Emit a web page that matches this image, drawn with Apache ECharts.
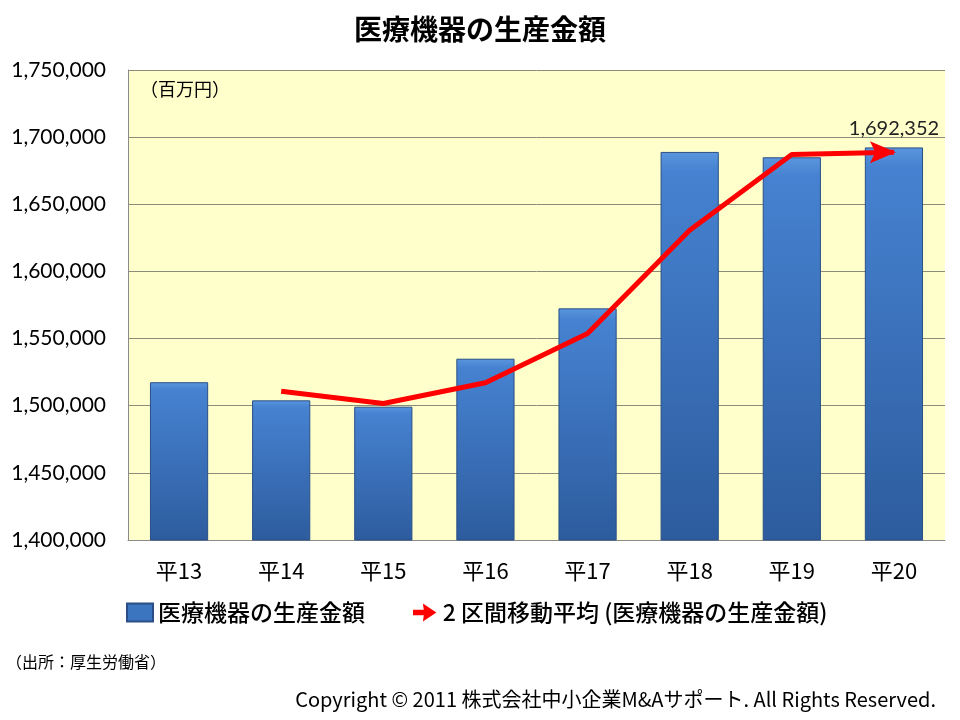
<!DOCTYPE html>
<html><head><meta charset="utf-8">
<script src="https://cdn.jsdelivr.net/npm/echarts@6/dist/echarts.min.js"></script>
<style>html,body{margin:0;padding:0;background:#fff}#c{width:960px;height:720px}</style>
</head><body><div id="c"></div>
<script>
const categories = ['平13','平14','平15','平16','平17','平18','平19','平20'];
const production = [1517500, 1504000, 1499300, 1535000, 1572500, 1689000, 1685000, 1692352];
const movingAvg = [null, 1510700, 1501600, 1517100, 1553700, 1630700, 1687000, 1688700];
const yTicks = {min: 1400000, max: 1750000, interval: 50000};
const seriesNames = ['医療機器の生産金額', '2 区間移動平均 (医療機器の生産金額)'];

const jp = '"Noto Sans CJK JP", sans-serif';
const num = 'Lato, "Noto Sans", sans-serif';
const fmt = v => v.toLocaleString('en-US');

const chart = echarts.init(document.getElementById('c'), null, {renderer: 'canvas'});
const arrowHead = 'path://M0,0 L24,11 L0,22 L5,11 Z';
const lineData = movingAvg.map((v, i) => i === movingAvg.length - 1
  ? {value: v, symbol: arrowHead, symbolSize: [26, 22], symbolOffset: [-11, 0]}
  : v);

chart.setOption({
  backgroundColor: '#fff',
  animation: false,
  title: {
    text: '医療機器の生産金額', left: 'center', top: 10,
    textStyle: {fontFamily: jp, fontSize: 28, fontWeight: 'bold', color: '#000'}
  },
  legend: {
    left: 121, top: 596, itemGap: 48, itemWidth: 26, itemHeight: 18,
    textStyle: {fontFamily: jp, fontSize: 23, color: '#000', fontWeight: 500},
    data: [
      {name: seriesNames[0], icon: 'rect', itemStyle: {color: '#3b74bf'}},
      {name: seriesNames[1], icon: 'path://M0,8 L12,8 L11,1 L26,11 L11,21 L12,14 L0,14 Z', itemStyle: {color: '#ff0000'}}
    ]
  },
  grid: {left: 128, right: 15, top: 70, bottom: 180, show: true, backgroundColor: '#ffffcc', borderWidth: 0},
  xAxis: {
    type: 'category', data: categories,
    axisLine: {lineStyle: {color: '#8a8a8a'}},
    axisTick: {show: false},
    axisLabel: {fontFamily: jp, fontSize: 22, color: '#000', margin: 20}
  },
  yAxis: {
    type: 'value', min: yTicks.min, max: yTicks.max, interval: yTicks.interval,
    axisLine: {show: true, lineStyle: {color: '#8a8a8a'}},
    axisTick: {show: false},
    splitLine: {lineStyle: {color: '#8c8c7a', width: 1}},
    axisLabel: {fontFamily: num, fontSize: 21, color: '#000', margin: 22, formatter: fmt}
  },
  series: [
    {
      name: seriesNames[0], type: 'bar', data: production, barWidth: '57%',
      itemStyle: {
        color: new echarts.graphic.LinearGradient(0, 0, 0, 1, [
          {offset: 0, color: '#5b95de'}, {offset: 0.05, color: '#4682d1'},
          {offset: 1, color: '#2d5c9e'}
        ]),
        borderColor: '#2a4f86', borderWidth: 1
      },
      label: {
        show: true, position: 'top', distance: 9,
        formatter: p => p.dataIndex === production.length - 1 ? fmt(p.value) : '',
        fontFamily: num, fontSize: 20, color: '#222'
      }
    },
    {
      name: seriesNames[1], type: 'line', data: lineData,
      symbol: 'none', showSymbol: true, connectNulls: false,
      lineStyle: {color: '#ff0000', width: 5},
      itemStyle: {color: '#ff0000'}, z: 5
    }
  ],
  graphic: [
    {type: 'text', left: 140, top: 80, style: {text: '（百万円）', font: '18px ' + jp, fill: '#000'}},
    {type: 'text', left: 6, top: 654, style: {text: '（出所：厚生労働省）', font: '16px ' + jp, fill: '#000'}},
    {type: 'text', right: 24, top: 689, style: {text: 'Copyright © 2011 株式会社中小企業M&Aサポート. All Rights Reserved.', font: '20px ' + jp, fill: '#000'}}
  ]
});
</script></body></html>
